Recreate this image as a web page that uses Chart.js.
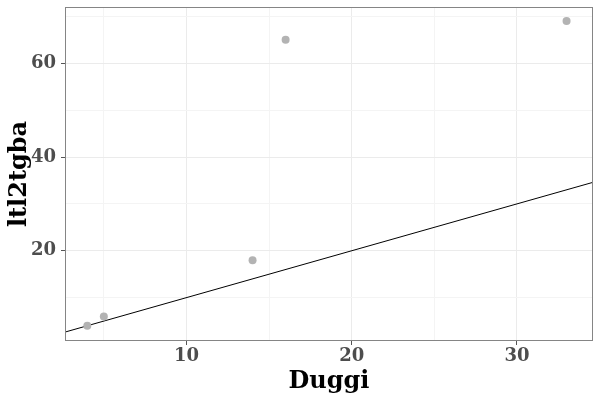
<!DOCTYPE html>
<html>
<head>
<meta charset="utf-8">
<script src="https://cdn.jsdelivr.net/npm/chart.js@4"></script>
<style>
  html, body { margin: 0; background: #fff; }
  #wrap { width: 600px; height: 400px; }
</style>
</head>
<body>
<div id="wrap"><canvas id="chart"></canvas></div>
<script>
// data
const duggi = [4, 5, 14, 16, 33];
const ltl2tgba = [4, 6, 18, 65, 69];
const xRange = [2.65, 34.6];
const yRange = [0.75, 72];
const xTicks = [5, 10, 15, 20, 25, 30];
const yTicks = [10, 20, 30, 40, 50, 60, 70];
const xMajor = [10, 20, 30];
const yMajor = [20, 40, 60];
// reference line y = x
const refSlope = 1;
const refIntercept = 0;

const points = duggi.map((d, i) => ({ x: d, y: ltl2tgba[i] }));
const refLine = xRange.map(x => ({ x: x, y: refIntercept + refSlope * x }));

const font = 'DejaVu Serif';

// panel border on all four sides
const frame = {
    id: 'frame',
    afterDraw(chart) {
        const a = chart.chartArea, ctx = chart.ctx;
        ctx.save();
        ctx.strokeStyle = '#858585';
        ctx.lineWidth = 1;
        ctx.strokeRect(a.left + 0.5, a.top + 0.5, a.right - a.left - 1, a.bottom - a.top - 1);
        ctx.restore();
    }
};

function axis(ticks, major, range, title, isX) {
    return {
        type: 'linear',
        min: range[0],
        max: range[1],
        afterBuildTicks: s => { s.ticks = ticks.map(v => ({ value: v })); },
        afterFit: s => { if (isX) s.height = 55; else s.width = 60; },
        border: { display: false },
        grid: {
            color: c => major.includes(c.tick.value) ? '#ebebeb' : '#f4f4f4',
            tickColor: c => major.includes(c.tick.value) ? '#555' : 'rgba(0,0,0,0)',
            tickLength: 4,
            lineWidth: 1
        },
        ticks: {
            autoSkip: false,
            maxRotation: 0,
            padding: isX ? 1 : 5,
            color: '#4d4d4d',
            font: c => ({ family: font, weight: 'bold',
                          size: c.tick && major.includes(c.tick.value) ? 18 : 1 }),
            callback: v => major.includes(v) ? String(v) : ''
        },
        title: {
            display: true,
            text: title,
            color: '#000',
            font: { family: font, size: 24, weight: 'bold' },
            padding: 0
        }
    };
}

new Chart(document.getElementById('chart'), {
    data: {
        datasets: [{
            type: 'scatter',
            data: points,
            backgroundColor: '#b3b3b3',
            borderWidth: 0,
            pointRadius: 4
        }, {
            type: 'line',
            data: refLine,
            borderColor: '#000',
            borderWidth: 1,
            pointRadius: 0,
            fill: false
        }]
    },
    options: {
        responsive: true,
        maintainAspectRatio: false,
        animation: false,
        layout: { padding: { left: 5, right: 7, top: 7, bottom: 4 } },
        plugins: { legend: { display: false }, tooltip: { enabled: false } },
        scales: {
            x: axis(xTicks, xMajor, xRange, 'Duggi', true),
            y: axis(yTicks, yMajor, yRange, 'ltl2tgba', false)
        }
    },
    plugins: [frame]
});
</script>
</body>
</html>
